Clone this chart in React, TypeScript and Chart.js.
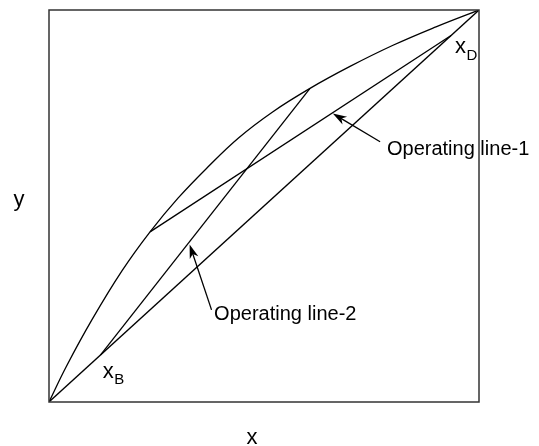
import React, { useEffect, useRef } from "react";
import { Chart, registerables } from "chart.js";

Chart.register(...registerables);

// Equilibrium curve
const eqX = [0, 0.04, 0.1, 0.17, 0.235, 0.3, 0.37, 0.44, 0.52, 0.607, 0.7, 0.8, 0.9, 1];
const eqY = [0, 0.09, 0.21, 0.335, 0.434, 0.52, 0.6, 0.673, 0.74, 0.8, 0.856, 0.91, 0.957, 1];

// Diagonal y = x
const diagX = [0, 1];
const diagY = [0, 1];

// Compositions
const xD = 0.935;
const xB = 0.12;

// Operating line-1: from xD on diagonal to curve
const op1X = [xD, 0.235];
const op1Y = [xD, 0.434];

// Operating line-2: from xB on diagonal to curve
const op2X = [xB, 0.607];
const op2Y = [xB, 0.8];

const labelOp1 = "Operating line-1";
const labelOp2 = "Operating line-2";
const axisX = "x";
const axisY = "y";

const toPts = (xs: number[], ys: number[]) => xs.map((x, i) => ({ x, y: ys[i] }));

const FONT = '"Liberation Sans", Arial, Helvetica, sans-serif';

function drawArrow(ctx: CanvasRenderingContext2D, x0: number, y0: number, x1: number, y1: number) {
  ctx.save();
  ctx.strokeStyle = "#000";
  ctx.fillStyle = "#000";
  ctx.lineWidth = 1.3;
  const ang = Math.atan2(y1 - y0, x1 - x0);
  const L = 14;
  const W = 4.5;
  const c = Math.cos(ang);
  const s = Math.sin(ang);
  const bx = x1 - L * c;
  const by = y1 - L * s;
  ctx.beginPath();
  ctx.moveTo(x0, y0);
  ctx.lineTo(x1 - 8 * c, y1 - 8 * s);
  ctx.stroke();
  ctx.beginPath();
  ctx.moveTo(x1, y1);
  ctx.lineTo(bx - W * s, by + W * c);
  ctx.lineTo(x1 - 10 * c, y1 - 10 * s);
  ctx.lineTo(bx + W * s, by - W * c);
  ctx.closePath();
  ctx.fill();
  ctx.restore();
}

const annotPlugin = {
  id: "annot",
  afterDatasetsDraw(chart: any) {
    const ctx: CanvasRenderingContext2D = chart.ctx;
    const { left, right, top, bottom } = chart.chartArea;
    const sx = chart.scales.x;
    const sy = chart.scales.y;
    const px = (v: number) => sx.getPixelForValue(v);
    const py = (v: number) => sy.getPixelForValue(v);

    ctx.save();
    // frame
    ctx.strokeStyle = "#333";
    ctx.lineWidth = 1.5;
    ctx.strokeRect(left, top, right - left, bottom - top);

    // arrows
    drawArrow(ctx, px(0.770), py(0.664), px(0.660), py(0.736));
    drawArrow(ctx, px(0.378), py(0.235), px(0.327), py(0.402));

    ctx.fillStyle = "#000";
    ctx.textBaseline = "alphabetic";
    ctx.textAlign = "left";
    ctx.font = `20px ${FONT}`;
    ctx.fillText(labelOp1, px(0.786), py(0.63));
    ctx.fillText(labelOp2, px(0.384), py(0.209));

    // xD
    ctx.font = `22px ${FONT}`;
    const xDx = px(0.944);
    const xDy = py(0.89);
    ctx.fillText("x", xDx, xDy);
    const w1 = ctx.measureText("x").width;
    ctx.font = `15px ${FONT}`;
    ctx.fillText("D", xDx + w1 + 0.5, xDy + 6.5);

    // xB
    ctx.font = `22px ${FONT}`;
    const xBx = px(0.125);
    const xBy = py(0.06);
    ctx.fillText("x", xBx, xBy);
    const w2 = ctx.measureText("x").width;
    ctx.font = `15px ${FONT}`;
    ctx.fillText("B", xBx + w2 + 0.5, xBy + 6);

    // axis titles
    ctx.font = `22px ${FONT}`;
    ctx.textAlign = "center";
    ctx.fillText(axisY, left - 30, (top + bottom) / 2);
    ctx.fillText(axisX, (left + right) / 2 - 12, bottom + 42);
    ctx.restore();
  },
};

export default function App() {
  const ref = useRef<HTMLCanvasElement | null>(null);
  useEffect(() => {
    if (!ref.current) return;
    const lineStyle = {
      showLine: true,
      borderColor: "#000",
      borderWidth: 1.3,
      pointRadius: 0,
      fill: false,
    };
    const chart = new Chart(ref.current, {
      type: "scatter",
      data: {
        datasets: [
          { ...lineStyle, label: "equilibrium", data: toPts(eqX, eqY), tension: 0.4 } as any,
          { ...lineStyle, label: "diagonal", data: toPts(diagX, diagY) },
          { ...lineStyle, label: labelOp1, data: toPts(op1X, op1Y) },
          { ...lineStyle, label: labelOp2, data: toPts(op2X, op2Y) },
        ],
      },
      options: {
        animation: false,
        responsive: false,
        devicePixelRatio: 1,
        layout: { padding: { left: 49, right: 60, top: 10, bottom: 44 } },
        plugins: { legend: { display: false }, tooltip: { enabled: false } },
        scales: {
          x: { type: "linear", min: 0, max: 1, display: false },
          y: { type: "linear", min: 0, max: 1, display: false },
        },
      },
      plugins: [annotPlugin],
    });
    return () => chart.destroy();
  }, []);
  return (
    <div style={{ position: "absolute", left: 0, top: 0, width: 539, height: 446, background: "#fff" }}>
      <canvas ref={ref} width={539} height={446} />
    </div>
  );
}
